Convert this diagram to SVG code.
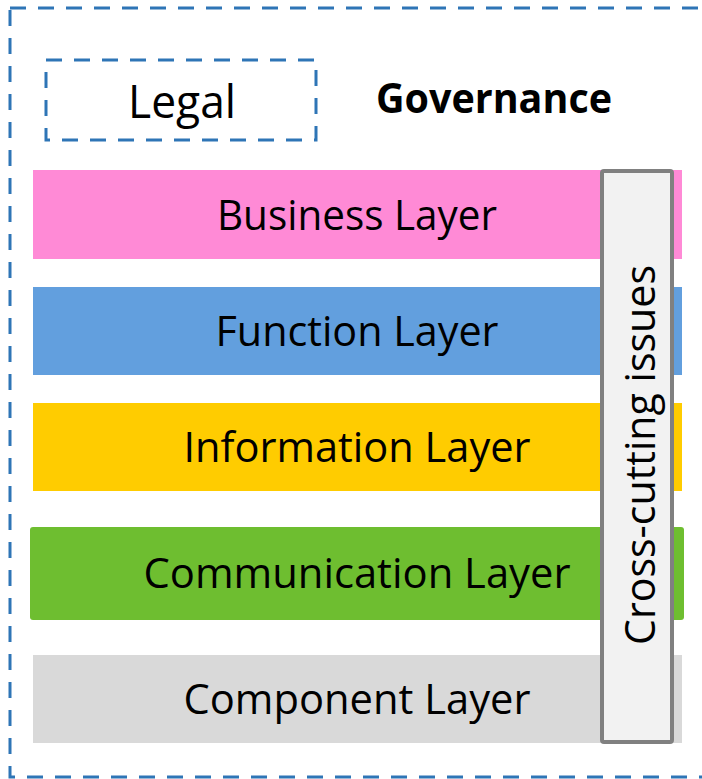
<svg xmlns="http://www.w3.org/2000/svg" width="702" height="779" viewBox="0 0 702 779">
<style>
.t{font-family:"Open Sans","Noto Sans","Liberation Sans",sans-serif;font-size:42px;fill:#000;text-anchor:middle}
.dash{fill:none;stroke:#2E75B6;stroke-width:3;stroke-dasharray:16 12}
</style>
<rect width="702" height="779" fill="#fff"/>
<g id="governance">
<rect class="dash" x="10" y="8" width="710" height="769"/>
<text x="494" y="113" class="t" style="font-weight:bold;font-size:41px" textLength="236" lengthAdjust="spacingAndGlyphs">Governance</text>
</g>
<g id="legal">
<rect class="dash" x="46" y="60" width="270" height="80"/>
<text x="182" y="118" class="t" style="font-size:45px" textLength="108" lengthAdjust="spacingAndGlyphs">Legal</text>
</g>
<g id="business">
<rect x="33" y="170" width="649" height="89" fill="#FF8AD6"/>
<text x="357" y="230" class="t" textLength="280" lengthAdjust="spacingAndGlyphs">Business Layer</text>
</g>
<g id="function">
<rect x="33" y="287" width="649" height="88" fill="#629FDE"/>
<text x="357" y="346" class="t" textLength="283" lengthAdjust="spacingAndGlyphs">Function Layer</text>
</g>
<g id="information">
<rect x="33" y="403" width="649" height="88" fill="#FFCC00"/>
<text x="357" y="462" class="t" textLength="347" lengthAdjust="spacingAndGlyphs">Information Layer</text>
</g>
<g id="communication">
<rect x="30" y="527" width="654" height="93" rx="3" fill="#6EBE30"/>
<text x="357" y="588" class="t" textLength="427" lengthAdjust="spacingAndGlyphs">Communication Layer</text>
</g>
<g id="component">
<rect x="33" y="655" width="649" height="88" fill="#D9D9D9"/>
<text x="357" y="714" class="t" textLength="347" lengthAdjust="spacingAndGlyphs">Component Layer</text>
</g>
<g id="crosscutting">
<rect x="602" y="171" width="70" height="571" rx="2" fill="#F2F2F2" stroke="#808080" stroke-width="4"/>
<text x="0" y="0" class="t" transform="translate(655,455) rotate(-90)" textLength="380" lengthAdjust="spacingAndGlyphs">Cross-cutting issues</text>
</g>
<g id="connectors"></g>
</svg>
